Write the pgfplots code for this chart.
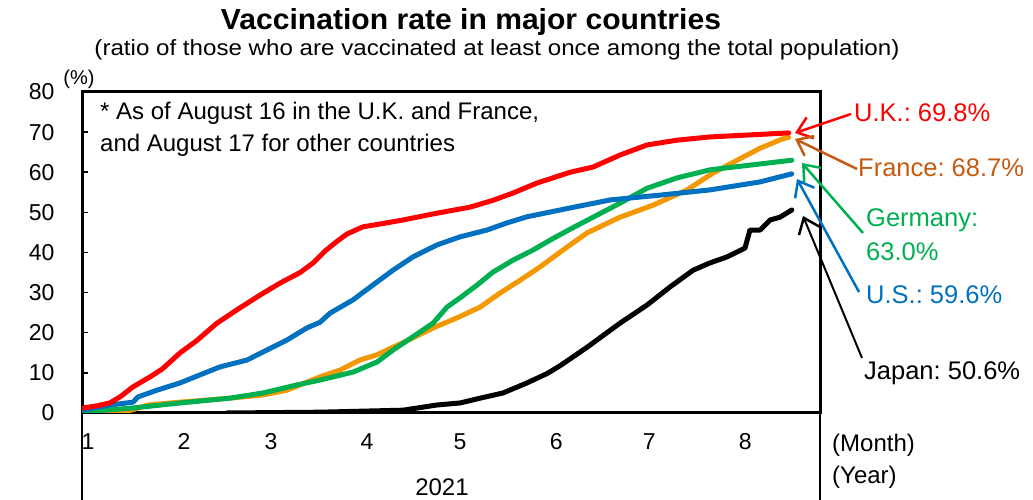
\documentclass[border=0pt]{standalone}
\usepackage{fontspec}
\setmainfont{Liberation Sans}
\usepackage{graphicx}
\usepackage{pgfplots}
\pgfplotsset{compat=1.18}
\usetikzlibrary{arrows.meta}
\definecolor{ukred}{RGB}{255,0,0}
\definecolor{frorange}{RGB}{243,152,0}
\definecolor{frbrown}{RGB}{197,90,17}
\definecolor{degreen}{RGB}{0,176,80}
\definecolor{usblue}{RGB}{0,112,192}
\newcommand{\lbl}{\fontsize{24}{28}\selectfont}
\newcommand{\rlbl}{\fontsize{25.5}{30}\selectfont}
\frenchspacing
\begin{document}
\begin{tikzpicture}[x=1pt,y=1pt]
\path[use as bounding box] (0,0) rectangle (1033,500);
\begin{axis}[
  at={(82pt,87pt)}, anchor=south west, scale only axis,
  width=738pt, height=321pt,
  xmin=-1.94, xmax=236.1, ymin=0, ymax=80,
  axis line style={line width=3pt, black},
  ytick={0,10,...,80},
  xtick={0,31,59,90,120,151,181,212},
  xticklabels={1,2,3,4,5,6,7,8},
  tick align=inside, ytick pos=left,
  major tick length=6pt,
  ytick style={line width=1.5pt, black},
  xtick style={draw=none},
  tick label style={font=\fontsize{23}{27}\selectfont},
  yticklabel style={xshift=-24pt},
  xticklabel style={yshift=-17pt},
  /pgf/number format/assume math mode=true,
  clip=true,
  every axis plot/.append style={line width=5pt, line cap=round, line join=round},
]
% Japan
\addplot[black] coordinates {(44.8,0) (74.8,0.2) (101.6,0.7) (112.6,2) (120,2.5) (126.5,3.7) (133.9,5) (141.6,7.5) (148,9.8) (152.3,11.8) (161,16.4) (171.6,22.4) (180.3,26.9) (187.7,31.4) (195.2,35.6) (200.6,37.4) (206.1,38.9) (211.9,41.1) (213.5,45.6) (216.8,45.6) (220,48.1) (223.2,48.8) (227,50.6)};
% France
\addplot[frorange] coordinates {(-2,0) (13.9,0.7) (19.4,2) (29.7,2.7) (45.8,3.7) (56.5,4.5) (64.2,5.7) (74.8,9) (81.3,10.7) (87.7,13.2) (93.2,14.5) (98.4,16.4) (104.8,18.7) (111.3,21.2) (119,23.7) (126.5,26.4) (132.9,29.9) (139.4,33.1) (145.8,36.4) (152.3,40.1) (155.5,41.9) (161,44.9) (171.6,48.8) (182.3,51.8) (193.2,55.6) (201.6,59.8) (209.4,63) (216.8,66) (224,68.3) (226,68.7)};
% Germany
\addplot[degreen] coordinates {(-2,0.3) (13.9,1.2) (29.7,2.5) (45.8,3.7) (56.5,5) (67.4,7) (74.8,8.2) (85.5,10.2) (93.2,12.7) (98.4,15.7) (104.8,19) (111.3,22.4) (115.8,26.4) (120,28.7) (125.5,31.9) (130.6,35.1) (137.1,38.1) (143.5,40.6) (150,43.5) (155.5,45.8) (162.9,48.8) (171.6,52.3) (180.3,56) (190,58.6) (200.6,60.6) (227,63)};
% US
\addplot[usblue] coordinates {(-2,0.7) (7.1,2) (14.5,2.7) (16.1,4) (22.3,5.7) (29.7,7.5) (36.1,9.5) (42.6,11.5) (51.3,13.2) (57.7,15.7) (64.2,18.2) (70.6,21.2) (74.8,22.6) (78.1,24.9) (85.5,28.2) (91.9,31.9) (98.4,35.6) (104.8,38.9) (112.6,41.9) (120,43.9) (128.7,45.6) (135.2,47.4) (141.6,48.9) (152.3,50.6) (155.5,51.1) (168.4,53.1) (184.5,54.3) (200.6,55.6) (216.8,57.6) (227,59.6)};
% UK
\addplot[ukred] coordinates {(-2,1.2) (3,1.8) (7,2.5) (10.3,4) (14.5,6.5) (20,9) (24,11) (29.7,15) (35,18) (41.6,22.4) (48,25.7) (55.5,29.4) (62,32.4) (68.4,35) (72.6,37.4) (76.5,40.4) (80,42.6) (83.5,44.6) (88.7,46.4) (94.2,47.1) (101.6,48.1) (112.6,49.8) (123.2,51.3) (130.6,53) (137,54.8) (144.8,57.3) (155.5,60) (162.9,61.3) (171.6,64.3) (180.3,66.8) (190,68) (200.6,68.8) (226,69.8)};
\end{axis}
% frame below axis
\draw[line width=1.5pt] (82,87) -- (82,0);
\draw[line width=1.5pt] (820,87) -- (820,0);
% titles
\node at (471,478) {\resizebox{500pt}{\height}{\fontsize{29}{33}\selectfont\bfseries Vaccination rate in major countries}};
\node at (497,450) {\resizebox{805pt}{\height}{\fontsize{22}{26}\selectfont (ratio of those who are vaccinated at least once among the total population)}};
\node at (79,421) {\fontsize{20}{24}\selectfont (\%)};
% note
\node[anchor=west, inner sep=0] at (100,387) {\lbl * As of August 16 in the U.K. and France,};
\node[anchor=west, inner sep=0] at (100,355) {\lbl and August 17 for other countries};
% labels
\node[anchor=west, inner sep=0, text=ukred] at (854,387) {\rlbl U.K.: 69.8\%};
\node[anchor=west, inner sep=0, text=frbrown] at (858,332) {\rlbl France: 68.7\%};
\node[anchor=west, inner sep=0, text=degreen] at (866,280) {\rlbl Germany:};
\node[anchor=west, inner sep=0, text=degreen] at (866,248) {\rlbl 63.0\%};
\node[anchor=west, inner sep=0, text=usblue] at (866,205) {\rlbl U.S.: 59.6\%};
\node[anchor=west, inner sep=0] at (864,127) {\rlbl Japan: 50.6\%};
\node[anchor=west, inner sep=0] at (832,55) {\lbl (Month)};
\node[anchor=west, inner sep=0] at (832,23) {\lbl (Year)};
\node at (442,13) {\lbl 2021};
% arrows
\tikzset{ann/.style={line width=2.5pt, -{Straight Barb[length=14pt,width=22pt,line width=2.5pt]}}}
\draw[ann, ukred] (851,386) -- (795,367);
\draw[ann, frbrown] (857,331) -- (795,361);
\draw[ann, degreen] (863,267) -- (802,337);
\draw[ann, usblue] (859,208) -- (797,321);
\draw[ann, black, line width=2pt] (862,142) -- (803,284);
\end{tikzpicture}
\end{document}
